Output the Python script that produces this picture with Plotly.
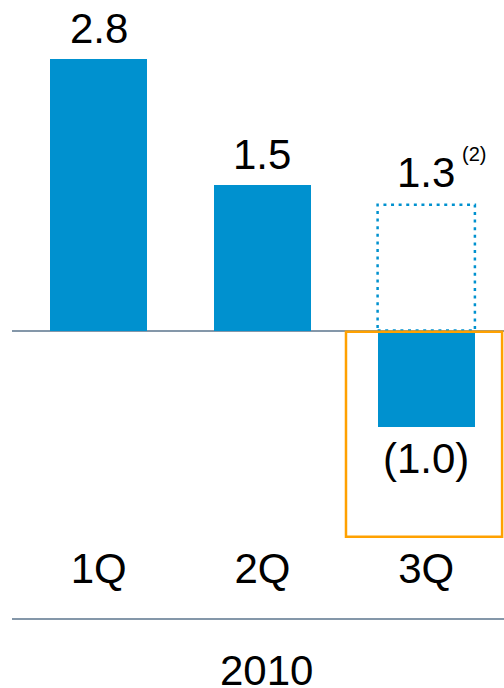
import plotly.graph_objects as go

# ---- data ----
quarters = ["1Q", "2Q", "3Q"]
year_label = "2010"
reported = [2.8, 1.5, -1.0]          # solid bars
adjusted_3q = 1.3                    # dotted outline bar for 3Q
value_labels = ["2.8", "1.5", "(1.0)"]
adjusted_label = "1.3"
footnote = "(2)"

# ---- style ----
BLUE = "#0091CF"
GRAY = "#8497A9"
ORANGE = "#FFA100"
FONT = "Arial, Liberation Sans, sans-serif"
FS = 42
BAR_W = 0.594

W, H = 504, 688
ML, MR, MT, MB = 12, 0, 0, 148
plot_h = H - MT - MB
PX_PER_UNIT = 96.8
ZERO_PX = 330.5
y_max = ZERO_PX / PX_PER_UNIT
y_min = y_max - plot_h / PX_PER_UNIT

x_idx = list(range(len(quarters)))

fig = go.Figure()
fig.add_trace(go.Bar(
    x=x_idx, y=reported, width=BAR_W,
    marker=dict(color=BLUE, line=dict(width=0)),
    hoverinfo="skip", showlegend=False,
))

# dotted adjusted bar outline for 3Q
i3 = 2
fig.add_shape(type="rect", xref="x", yref="y",
              x0=x_idx[i3] - BAR_W / 2, x1=x_idx[i3] + BAR_W / 2,
              y0=0, y1=adjusted_3q,
              line=dict(color=BLUE, width=2.5, dash="3px,4.6px"),
              fillcolor="rgba(0,0,0,0)", layer="above")

# orange highlight box around 3Q negative bar
fig.add_shape(type="rect", xref="x", yref="y",
              x0=x_idx[i3] - 0.49, x1=x_idx[i3] + 0.463,
              y0=-0.012, y1=-2.13,
              line=dict(color=ORANGE, width=2.5),
              fillcolor="rgba(0,0,0,0)", layer="above")

# lower separator line
fig.add_shape(type="line", xref="paper", yref="paper",
              x0=0, x1=1, y0=(plot_h - 619) / plot_h, y1=(plot_h - 619) / plot_h,
              line=dict(color=GRAY, width=2))

ann = []
# value labels
for i, (v, t) in enumerate(zip(reported, value_labels)):
    if i == i3:
        continue
    ann.append(dict(x=x_idx[i], y=v, text=t, showarrow=False, yanchor="middle",
                    yshift=31, font=dict(size=FS, color="black", family=FONT)))
ann.append(dict(x=x_idx[i3], y=reported[i3], text=value_labels[i3], showarrow=False,
                yanchor="middle", yshift=-31, font=dict(size=FS, color="black", family=FONT)))
ann.append(dict(x=x_idx[i3], y=adjusted_3q, text=adjusted_label, showarrow=False,
                yanchor="middle", yshift=32.5, font=dict(size=FS, color="black", family=FONT)))
ann.append(dict(x=x_idx[i3], y=adjusted_3q, text=footnote, showarrow=False,
                yanchor="middle", xshift=47.5, yshift=51, font=dict(size=20, color="black", family=FONT)))
ann.append(dict(x=(266.3 - ML) / (W - ML - MR), y=(plot_h - 670) / plot_h, xref="paper", yref="paper",
                text=year_label, showarrow=False, yanchor="middle",
                font=dict(size=FS, color="black", family=FONT)))

fig.update_layout(
    width=W, height=H,
    margin=dict(l=ML, r=MR, t=MT, b=MB, pad=0),
    paper_bgcolor="white", plot_bgcolor="white",
    annotations=ann,
    xaxis=dict(range=[(ML - 98.65) / 163.8, (W - 98.65) / 163.8],
               tickvals=x_idx, ticktext=quarters, ticks="",
               showgrid=False, zeroline=False, showline=False,
               tickfont=dict(size=FS, color="black", family=FONT)),
    yaxis=dict(range=[y_min, y_max], showgrid=False, showticklabels=False, ticks="",
               zeroline=True, zerolinecolor=GRAY, zerolinewidth=2, showline=False),
    bargap=0,
)

fig.write_html("out.html")
